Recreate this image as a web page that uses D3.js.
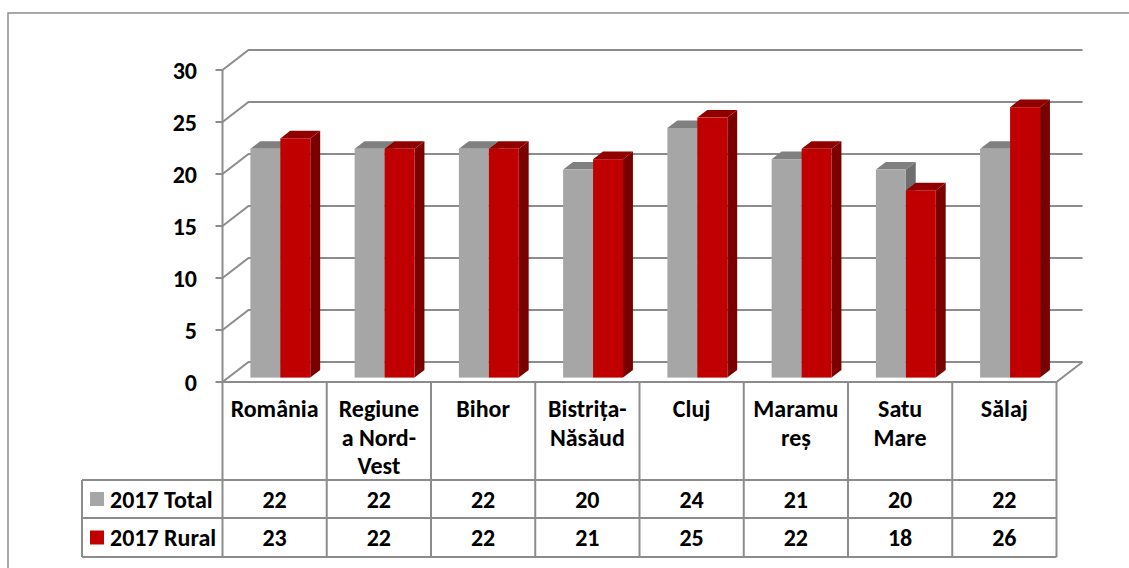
<!DOCTYPE html>
<html lang="ro">
<head>
    <meta charset="UTF-8">
    <title>3D Column Chart</title>
    <script src="https://d3js.org/d3.v7.min.js"></script>
    <style>
        body { margin: 0; background: #fff; }
        text { font-family: Carlito, Lato, sans-serif; font-weight: bold; fill: #000; }
    </style>
</head>
<body>
	<div id="chart"></div>
</body>
</html>

<script>
	const width = 1129, height = 568;

	const categories = ["România", "Regiune a Nord-Vest", "Bihor", "Bistrița-Năsăud", "Cluj", "Maramureș", "Satu Mare", "Sălaj"];
	const categoryLines = [["România"], ["Regiune", "a Nord-", "Vest"], ["Bihor"], ["Bistrița-", "Năsăud"], ["Cluj"], ["Maramu", "reș"], ["Satu", "Mare"], ["Sălaj"]];
	const series = ["2017 Total", "2017 Rural"];
	const totalValues = [22, 22, 22, 20, 24, 21, 20, 22];
	const ruralValues = [23, 22, 22, 21, 25, 22, 18, 26];
	const yTicks = [0, 5, 10, 15, 20, 25, 30];

	const faceColors = {
		"2017 Total": {front: "#a6a6a6", top: "#808080", side: "#6e6e6e"},
		"2017 Rural": {front: "#c00000", top: "#900000", side: "#7a0000"}
	};
	const lineColor = "#8c8c8c";
	const fontSize = "24px";

	// depth of the 3D box
	const DX = 26, DY = 20;
	const barD0 = 0.22, barD1 = 0.6;

	const left = 222.5, right = 1056.5;
	const tableTop = 382, row1 = 480, row2 = 518, tableBottom = 557, legendLeft = 82;

	const svg = d3.select("#chart")
		.append("svg")
			.attr("width", width)
			.attr("height", height);

	// outer frame (runs off the right and bottom edges)
	svg.append("rect")
		.attr("x", 8).attr("y", 13)
		.attr("width", 1200).attr("height", 600)
		.attr("fill", "none")
		.attr("stroke", lineColor)
		.attr("stroke-width", 1.5);

	const xScale = d3.scaleBand()
		.domain(categories)
		.range([left, right]);

	const xSub = d3.scaleBand()
		.domain(series)
		.range([0, xScale.bandwidth()])
		.paddingInner(0)
		.paddingOuter(0.74);

	const yScale = d3.scaleLinear()
		.domain([0, 30])
		.range([tableTop, 70]);

	const px = (x, d) => x + d * DX;
	const py = (y, d) => y - d * DY;

	const grid = svg.append("g")
		.attr("stroke", lineColor)
		.attr("stroke-width", 2)
		.attr("fill", "none");

	// back wall gridlines + left side wall
	grid.selectAll("path.grid")
		.data(yTicks)
		.join("path")
		.attr("class", "grid")
		.attr("d", d => `M${left},${yScale(d)}L${px(left, 1)},${py(yScale(d), 1)}L${px(right, 1)},${py(yScale(d), 1)}`);

	// floor right edge
	grid.append("path")
		.attr("d", `M${right},${yScale(0)}L${px(right, 1)},${py(yScale(0), 1)}`);

	// front value axis
	grid.append("path")
		.attr("d", `M${left},${yScale(30)}V${yScale(0)}`);
	grid.selectAll("path.tick")
		.data(yTicks)
		.join("path")
		.attr("class", "tick")
		.attr("d", d => `M${left - 7},${yScale(d)}H${left}`);

	svg.selectAll("text.yLabel")
		.data(yTicks)
		.join("text")
		.attr("class", "yLabel")
		.attr("x", 197)
		.attr("y", d => yScale(d))
		.attr("text-anchor", "end")
		.attr("dominant-baseline", "central")
		.style("font-size", fontSize)
		.text(d => d);

	// bars
	const barData = [];
	categories.forEach((c, i) => {
		barData.push({cat: c, s: series[0], v: totalValues[i]});
		barData.push({cat: c, s: series[1], v: ruralValues[i]});
	});

	const bars = svg.selectAll("g.bar")
		.data(barData)
		.join("g")
		.attr("class", "bar");

	bars.each(function(d) {
		const g = d3.select(this);
		const x0 = xScale(d.cat) + xSub(d.s), x1 = x0 + xSub.bandwidth();
		const yb = yScale(0), yt = yScale(d.v);
		const c = faceColors[d.s];
		// side
		g.append("path")
			.attr("fill", c.side)
			.attr("d", `M${px(x1, barD0)},${py(yb, barD0)}L${px(x1, barD1)},${py(yb, barD1)}L${px(x1, barD1)},${py(yt, barD1)}L${px(x1, barD0)},${py(yt, barD0)}Z`);
		// top
		g.append("path")
			.attr("fill", c.top)
			.attr("d", `M${px(x0, barD0)},${py(yt, barD0)}L${px(x0, barD1)},${py(yt, barD1)}L${px(x1, barD1)},${py(yt, barD1)}L${px(x1, barD0)},${py(yt, barD0)}Z`);
		// front
		g.append("rect")
			.attr("fill", c.front)
			.attr("x", px(x0, barD0))
			.attr("y", py(yt, barD0))
			.attr("width", x1 - x0)
			.attr("height", yb - yt);
	});

	// data table
	const table = svg.append("g")
		.attr("stroke", lineColor)
		.attr("stroke-width", 2)
		.attr("fill", "none");

	table.append("path").attr("d", `M${left},${tableTop}H${right}`);
	[row1, row2, tableBottom].forEach(y => {
		table.append("path").attr("d", `M${legendLeft},${y}H${right}`);
	});
	table.append("path").attr("d", `M${legendLeft},${row1}V${tableBottom}`);
	table.selectAll("path.col")
		.data(categories.concat(["end"]))
		.join("path")
		.attr("class", "col")
		.attr("d", (d, i) => {
			const x = i < categories.length ? xScale(d) : right;
			return `M${x},${tableTop}V${tableBottom}`;
		});

	// category labels
	svg.selectAll("text.catLabel")
		.data(categories)
		.join("text")
		.attr("class", "catLabel")
		.attr("text-anchor", "middle")
		.style("font-size", fontSize)
		.each(function(d, i) {
			d3.select(this).selectAll("tspan")
				.data(categoryLines[i])
				.join("tspan")
				.attr("x", xScale(d) + xScale.bandwidth() / 2)
				.attr("y", (l, j) => 417 + j * 28.5)
				.text(l => l);
		});

	// value rows
	const rows = [
		{s: series[0], values: totalValues, yc: (row1 + row2) / 2},
		{s: series[1], values: ruralValues, yc: (row2 + tableBottom) / 2}
	];

	rows.forEach(r => {
		svg.append("rect")
			.attr("x", 90)
			.attr("y", r.yc - 7)
			.attr("width", 14)
			.attr("height", 14)
			.attr("fill", faceColors[r.s].front);
		svg.append("text")
			.attr("x", 110)
			.attr("y", r.yc)
			.attr("dominant-baseline", "central")
			.style("font-size", fontSize)
			.text(r.s);
		svg.selectAll(null)
			.data(r.values)
			.join("text")
			.attr("x", (d, i) => xScale(categories[i]) + xScale.bandwidth() / 2)
			.attr("y", r.yc)
			.attr("text-anchor", "middle")
			.attr("dominant-baseline", "central")
			.style("font-size", fontSize)
			.text(d => d);
	});
</script>
